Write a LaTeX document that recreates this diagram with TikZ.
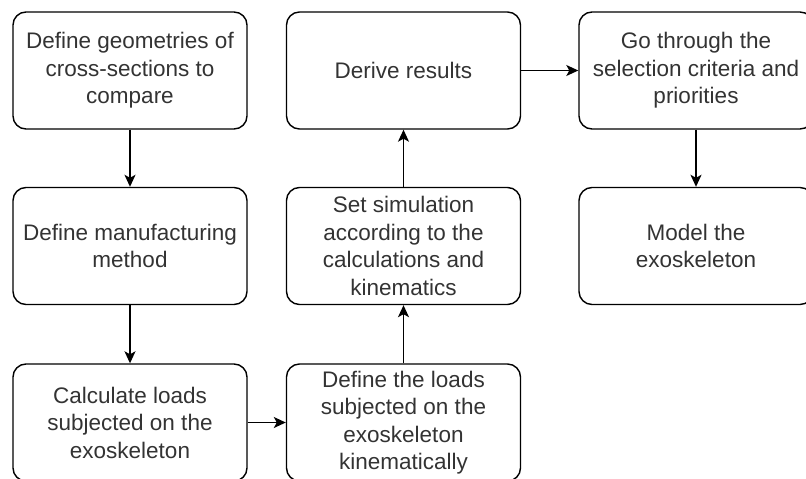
\documentclass[tikz,border=0pt]{standalone}
\usepackage{fontspec}
\setmainfont{Liberation Sans}
\usetikzlibrary{arrows.meta}
\begin{document}
\begin{tikzpicture}[x=1pt,y=-1pt,
 box/.style={draw, line width=1.4pt, rounded corners=13pt, minimum width=234pt, minimum height=117pt, align=center, font=\fontsize{22.5}{27.5}\selectfont, inner sep=0pt, text=black!80},
 arr/.style={-{Stealth[length=12pt,width=11pt,inset=3pt]}, line width=1.5pt}]
\useasboundingbox (0,0) rectangle (806,479);
\node[box] (a) at (130,70.5) {Define geometries of\\cross-sections to\\compare};
\node[box] (b) at (130,246) {Define manufacturing\\method};
\node[box] (c) at (130,422.5) {Calculate loads\\subjected on the\\exoskeleton};
\node[box] (d) at (403.5,422.5) {Define the loads\\subjected on the\\exoskeleton\\kinematically};
\node[box] (e) at (403.5,246) {Set simulation\\according to the\\calculations and\\kinematics};
\node[box] (f) at (403.5,70.5) {Derive results};
\node[box] (g) at (696,70.5) {Go through the\\selection criteria and\\priorities};
\node[box] (h) at (696,246) {Model the\\exoskeleton};
\draw[arr] (a) -- (b);
\draw[arr] (b) -- (c);
\draw[arr] (c) -- (d);
\draw[arr] (d) -- (e);
\draw[arr] (e) -- (f);
\draw[arr] (f) -- (g);
\draw[arr] (g) -- (h);
\end{tikzpicture}
\end{document}
